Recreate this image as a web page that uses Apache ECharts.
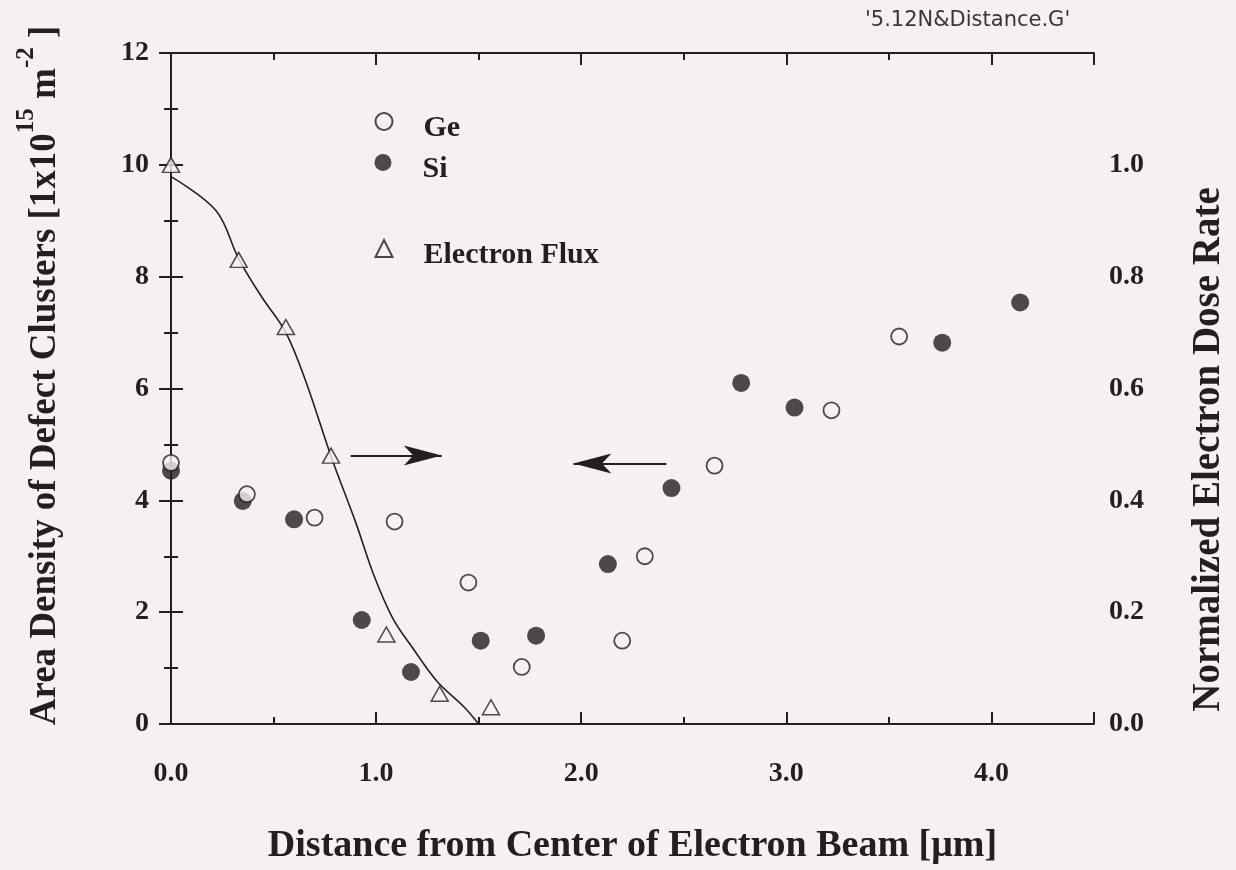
<!DOCTYPE html>
<html>
<head>
<meta charset="utf-8">
<script src="https://cdn.jsdelivr.net/npm/echarts@6/dist/echarts.min.js"></script>
<style>
  html, body { margin: 0; padding: 0; background: #f5f1f3; }
  #chart { width: 1236px; height: 870px; }
</style>
</head>
<body>
<div id="chart"></div>
<script>
// Area density of defect clusters [1x10^15 m^-2] vs. distance [um]
const geData = [[0.00, 4.67], [0.37, 4.11], [0.70, 3.69], [1.09, 3.62], [1.45, 2.53], [1.71, 1.02],
  [2.20, 1.49], [2.31, 3.00], [2.65, 4.62], [3.22, 5.61], [3.55, 6.93]];
const siData = [[0.00, 4.53], [0.35, 3.99], [0.60, 3.66], [0.93, 1.86], [1.17, 0.93], [1.51, 1.49],
  [1.78, 1.58], [2.13, 2.86], [2.44, 4.22], [2.78, 6.10], [3.04, 5.66], [3.76, 6.82], [4.14, 7.54]];

// Normalized electron dose rate (right axis)
const fluxPoints = [[0.00, 1.00], [0.33, 0.83], [0.56, 0.71], [0.78, 0.48], [1.05, 0.16], [1.31, 0.054], [1.56, 0.03]];
const fluxCurve = [[0.00, 0.979], [0.22, 0.918], [0.33, 0.832], [0.44, 0.765], [0.56, 0.700], [0.66, 0.610],
  [0.78, 0.479], [0.90, 0.361], [0.99, 0.265], [1.08, 0.190], [1.18, 0.135], [1.30, 0.075], [1.43, 0.030], [1.50, 0.000]];

// Arrows pointing at the axis each data set belongs to: [tail, tip] in (x, left-axis) units
const arrowToRight = [[0.876, 4.80], [1.320, 4.80]];
const arrowToLeft = [[2.415, 4.66], [1.962, 4.66]];

const xTickLabels = ['0.0', '1.0', '2.0', '3.0', '4.0'];
const rightTickLabels = ['0.0', '0.2', '0.4', '0.6', '0.8', '1.0'];

const INK = '#231f20';
const PAPER = '#f5f1f3';
const SERIF = "'Liberation Serif', 'Times New Roman', serif";

const chart = echarts.init(document.getElementById('chart'), null, { renderer: 'canvas' });

const labelFont = { color: INK, fontFamily: SERIF, fontWeight: 'bold', fontSize: 28 };
const axisLine = { show: true, lineStyle: { color: INK, width: 2 } };

function tickAxis(pos, interval, len, extra) {
  return Object.assign({
    type: 'value', position: pos, min: 0, max: 4.5, interval: interval,
    axisLine: { show: false },
    axisTick: { show: true, inside: true, length: len, lineStyle: { color: INK, width: 2 } },
    axisLabel: { show: false },
    splitLine: { show: false }
  }, extra || {});
}

function legendBlock(name, top) {
  return {
    data: [name], left: 374.5, top: top, padding: 0,
    itemWidth: 17, itemHeight: 17, selectedMode: false,
    formatter: n => '{t|' + n + '}',
    textStyle: {
      color: INK, fontFamily: SERIF, fontWeight: 'bold', fontSize: 30, padding: [0, 0, 0, 26],
      rich: { t: { color: INK, fontFamily: SERIF, fontWeight: 'bold', fontSize: 30, padding: [14, 0, 0, 0] } }
    }
  };
}

const option = {
  backgroundColor: PAPER,
  animation: false,
  title: {
    text: "'5.12N&Distance.G'",
    left: 860, top: 5,
    textStyle: { color: '#3a3536', fontFamily: "'DejaVu Sans', sans-serif", fontWeight: 'normal', fontSize: 21 }
  },
  legend: [legendBlock('Ge', 112), legendBlock('Si', 154), legendBlock('Electron Flux', 239)],
  grid: { left: 171, right: 133, top: 53, bottom: 134, containLabel: false },
  xAxis: [
    tickAxis('bottom', 0.5, 7, {
      axisLine: axisLine,
      axisLabel: {
        show: true, margin: 36, ...labelFont,
        formatter: v => (Math.abs(v - Math.round(v)) < 1e-6 && Math.round(v) < xTickLabels.length) ? xTickLabels[Math.round(v)] : ''
      },
      name: 'Distance from Center of Electron Beam [\u03bcm]',
      nameLocation: 'middle', nameGap: 103,
      nameTextStyle: { color: INK, fontFamily: SERIF, fontWeight: 'bold', fontSize: 38 }
    }),
    tickAxis('bottom', 1, 12),
    tickAxis('top', 0.5, 7, { axisLine: axisLine }),
    tickAxis('top', 1, 12)
  ],
  yAxis: [
    {
      type: 'value', position: 'left', min: 0, max: 12, interval: 2,
      axisLine: axisLine,
      axisTick: { show: true, inside: true, length: 12, lineStyle: { color: INK, width: 2 } },
      minorTick: { show: true, splitNumber: 2, length: 7, lineStyle: { color: INK, width: 2 } },
      axisLabel: { margin: 22, ...labelFont },
      splitLine: { show: false },
      name: '{b|Area Density of Defect Clusters [1x10}{s|15}{b| m}{s|-2}{b| ]}',
      nameLocation: 'middle', nameRotate: 90, nameGap: 95,
      nameTextStyle: {
        padding: [0, 0, 0, 26],
        rich: {
          b: { color: INK, fontFamily: SERIF, fontWeight: 'bold', fontSize: 37, lineHeight: 62 },
          s: { color: INK, fontFamily: SERIF, fontWeight: 'bold', fontSize: 25, lineHeight: 25, verticalAlign: 'top' }
        }
      }
    },
    {
      type: 'value', position: 'right', min: 0, max: 1.2, interval: 0.2,
      axisLine: axisLine,
      axisTick: { show: true, inside: true, length: 12, lineStyle: { color: INK, width: 2 } },
      minorTick: { show: true, splitNumber: 2, length: 7, lineStyle: { color: INK, width: 2 } },
      axisLabel: {
        margin: 15, ...labelFont,
        formatter: v => { const i = Math.round(v / 0.2); return i < rightTickLabels.length ? rightTickLabels[i] : ''; }
      },
      splitLine: { show: false },
      name: 'Normalized Electron Dose Rate',
      nameLocation: 'middle', nameRotate: 90, nameGap: 95,
      nameTextStyle: { color: INK, fontFamily: SERIF, fontWeight: 'bold', fontSize: 39, padding: [0, 122, 0, 0] }
    }
  ],
  series: [
    {
      name: 'Si', type: 'scatter', xAxisIndex: 0, yAxisIndex: 0,
      data: siData, symbol: 'circle', symbolSize: 18,
      itemStyle: { color: INK },
      markLine: {
        silent: true, animation: false,
        label: { show: false },
        lineStyle: { color: INK, width: 2, type: 'solid' },
        data: [
          [{ coord: arrowToRight[0], symbol: 'none' }, { coord: arrowToRight[1], symbol: 'arrow', symbolSize: [15, 38] }],
          [{ coord: arrowToLeft[0], symbol: 'none' }, { coord: arrowToLeft[1], symbol: 'arrow', symbolSize: [15, 38] }]
        ]
      }
    },
    {
      name: 'Ge', type: 'scatter', xAxisIndex: 0, yAxisIndex: 0,
      data: geData, symbol: 'circle', symbolSize: 16,
      itemStyle: { color: PAPER, borderColor: INK, borderWidth: 1.8 }
    },
    {
      name: 'Electron Flux', type: 'scatter', xAxisIndex: 0, yAxisIndex: 1,
      data: fluxPoints, symbol: 'triangle', symbolSize: [17, 15],
      itemStyle: { color: PAPER, borderColor: INK, borderWidth: 1.5 }
    },
    {
      name: 'flux profile', type: 'line', xAxisIndex: 0, yAxisIndex: 1,
      data: fluxCurve, smooth: 0.35, showSymbol: false, symbol: 'none',
      lineStyle: { color: INK, width: 1.6 }, z: 1
    }
  ]
};

chart.setOption(option);
</script>
</body>
</html>
